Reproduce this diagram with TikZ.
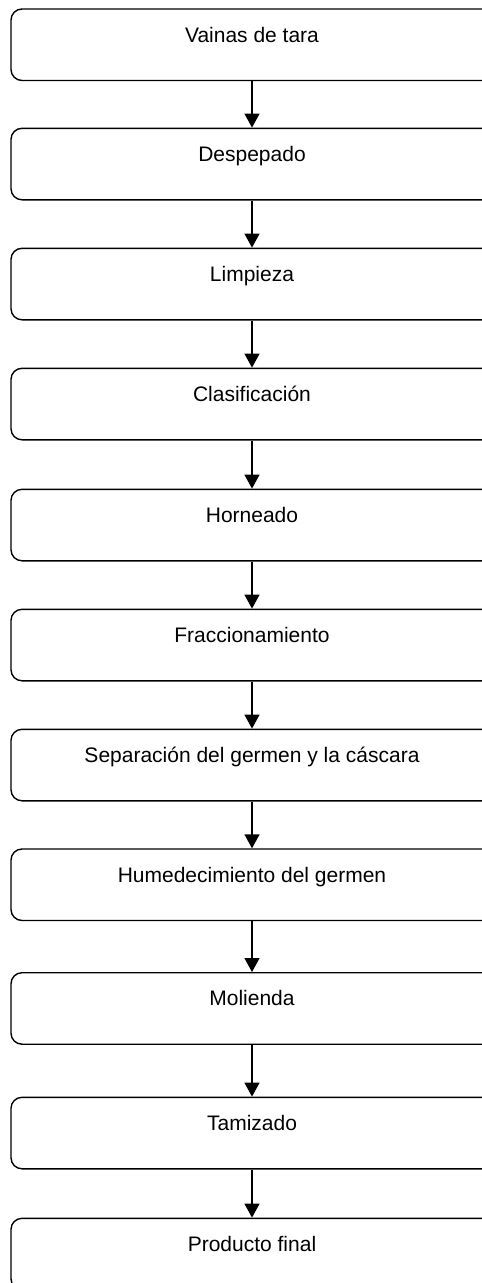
\documentclass[tikz,border=0pt]{standalone}
\usepackage{fontspec}
\setmainfont{Liberation Sans}
\usetikzlibrary{arrows.meta}
\begin{document}
\begin{tikzpicture}[x=1pt,y=1pt,
  stepbox/.style={draw=black, line width=1.4pt, rounded corners=11pt, rectangle,
    minimum width=482pt, minimum height=71.5pt, inner xsep=0pt, inner ysep=0pt,
    text height=33pt, text depth=38.5pt, font=\fontsize{21}{25}\selectfont},
  flow/.style={draw=black, line width=1.4pt, -{Triangle[width=15pt,length=14pt]}}]
\useasboundingbox (0,0) rectangle (482,-1283);
\clip (0,0) rectangle (482,-1283);
\node[stepbox] (b1) at (252,-44.75) {Vainas de tara};
\node[stepbox] (b2) at (252,-164.05) {Despepado};
\node[stepbox] (b3) at (252,-284.05) {Limpieza};
\node[stepbox] (b4) at (252,-404.05) {Clasificación};
\node[stepbox] (b5) at (252,-525.05) {Horneado};
\node[stepbox] (b6) at (252,-645.05) {Fraccionamiento};
\node[stepbox] (b7) at (252,-765.05) {Separación del germen y la cáscara};
\node[stepbox] (b8) at (252,-884.75) {Humedecimiento del germen};
\node[stepbox] (b9) at (252,-1008.45) {Molienda};
\node[stepbox] (b10) at (252,-1133.05) {Tamizado};
\node[stepbox] (b11) at (252,-1254.05) {Producto final};
\draw[flow] (b1) -- (b2);
\draw[flow] (b2) -- (b3);
\draw[flow] (b3) -- (b4);
\draw[flow] (b4) -- (b5);
\draw[flow] (b5) -- (b6);
\draw[flow] (b6) -- (b7);
\draw[flow] (b7) -- (b8);
\draw[flow] (b8) -- (b9);
\draw[flow] (b9) -- (b10);
\draw[flow] (b10) -- (b11);
\end{tikzpicture}
\end{document}
